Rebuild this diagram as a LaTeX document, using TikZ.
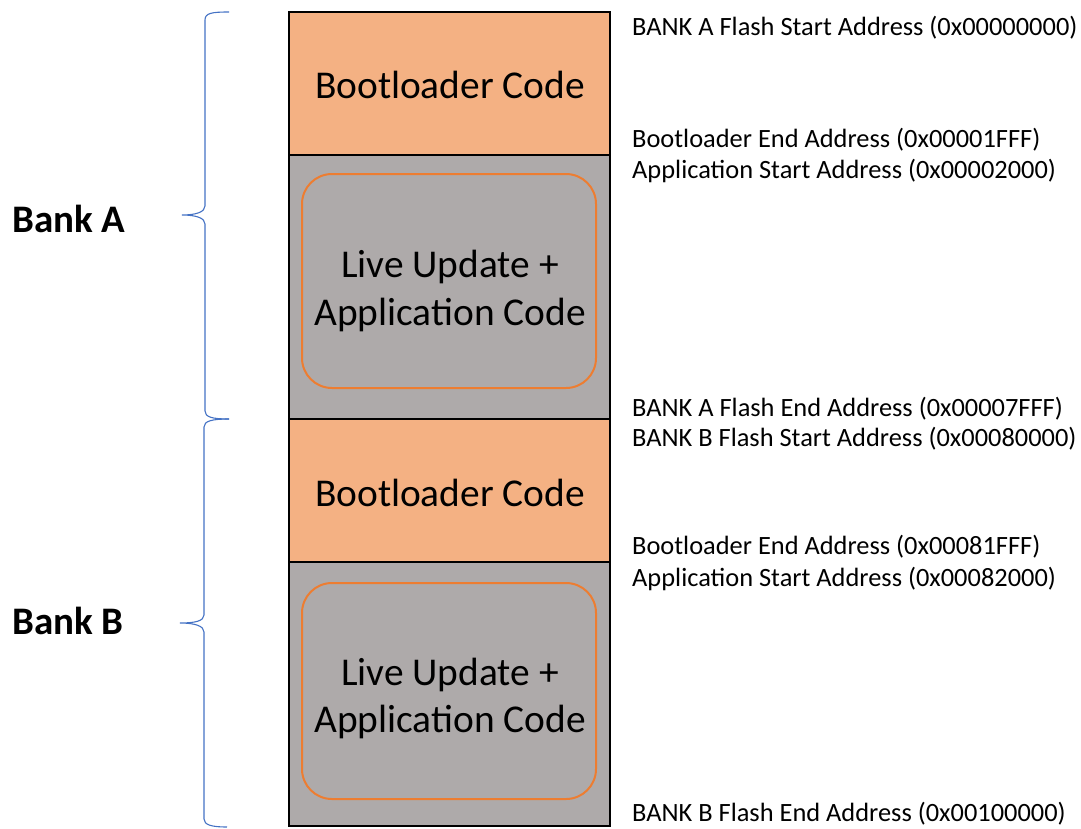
\documentclass[tikz,border=0pt]{standalone}
\usepackage{fontspec}
\setmainfont{Carlito}
\usetikzlibrary{calc}
\definecolor{bootfill}{HTML}{F4B183}
\definecolor{appfill}{HTML}{AEAAAA}
\definecolor{appedge}{HTML}{ED7D31}
\definecolor{bracecol}{HTML}{4472C4}
\begin{document}
\begin{tikzpicture}[x=1pt,y=-1pt,
  region/.style={draw=black,line width=2.4pt},
  bootregion/.style={region,fill=bootfill},
  appregion/.style={region,fill=appfill},
  liveupd/.style={draw=appedge,line width=2pt,rounded corners=30pt},
  bigtext/.style={font=\fontsize{39.4}{47.5}\selectfont,align=center},
  addr/.style={font=\fontsize{26.4}{31}\selectfont,anchor=base west,inner sep=0pt},
  banklabel/.style={font=\fontsize{39}{42}\selectfont\bfseries,anchor=base west,inner sep=0pt},
  bracket/.style={draw=bracecol,line width=1.1pt}]
\useasboundingbox (0,0) rectangle (1081,828);

% memory map regions
\draw[bootregion] (289,12) rectangle (610,155);
\draw[appregion] (289,155) rectangle (610,419);
\draw[bootregion] (289,419) rectangle (610,562);
\draw[appregion] (289,562) rectangle (610,826);

% inner rounded blocks
\draw[liveupd] (302,174) rectangle (596,388);
\draw[liveupd] (302,583) rectangle (596,799);

% region captions
\node[bigtext] (bootA) at (450,85) {Bootloader Code};
\node[bigtext] (appA) at (450,291) {Live Update +\\Application Code};
\node[bigtext] (bootB) at (450,493) {Bootloader Code};
\node[bigtext] (appB) at (450,698.5) {Live Update +\\Application Code};

% address annotations
\node[addr] (a1) at (632,35.5) {BANK A Flash Start Address (0x00000000)};
\node[addr] (a2) at (632,147.5) {Bootloader End Address (0x00001FFF)};
\node[addr] (a3) at (632,178.5) {Application Start Address (0x00002000)};
\node[addr] (a4) at (632,416.5) {BANK A Flash End Address (0x00007FFF)};
\node[addr] (a5) at (632,446.5) {BANK B Flash Start Address (0x00080000)};
\node[addr] (a6) at (632,554.5) {Bootloader End Address (0x00081FFF)};
\node[addr] (a7) at (632,586.5) {Application Start Address (0x00082000)};
\node[addr] (a8) at (632,821.5) {BANK B Flash End Address (0x00100000)};

% bank braces
\draw[bracket] (229,12) .. controls (212,12) and (205,13) .. (205,20)
  -- (205,206) .. controls (205,212) and (196,215) .. (182,215)
  .. controls (196,215) and (205,218) .. (205,224)
  -- (205,411) .. controls (205,417) and (212,419) .. (229,419);
\draw[bracket] (229,419) .. controls (212,419) and (204,421) .. (204,427)
  -- (204,615) .. controls (204,621) and (195,623) .. (180,623)
  .. controls (195,623) and (204,626) .. (204,632)
  -- (204,819) .. controls (204,825) and (212,827) .. (227,827);

\node[banklabel] (bankA) at (12,232) {Bank A};
\node[banklabel] (bankB) at (12,634) {Bank B};
\end{tikzpicture}
\end{document}
